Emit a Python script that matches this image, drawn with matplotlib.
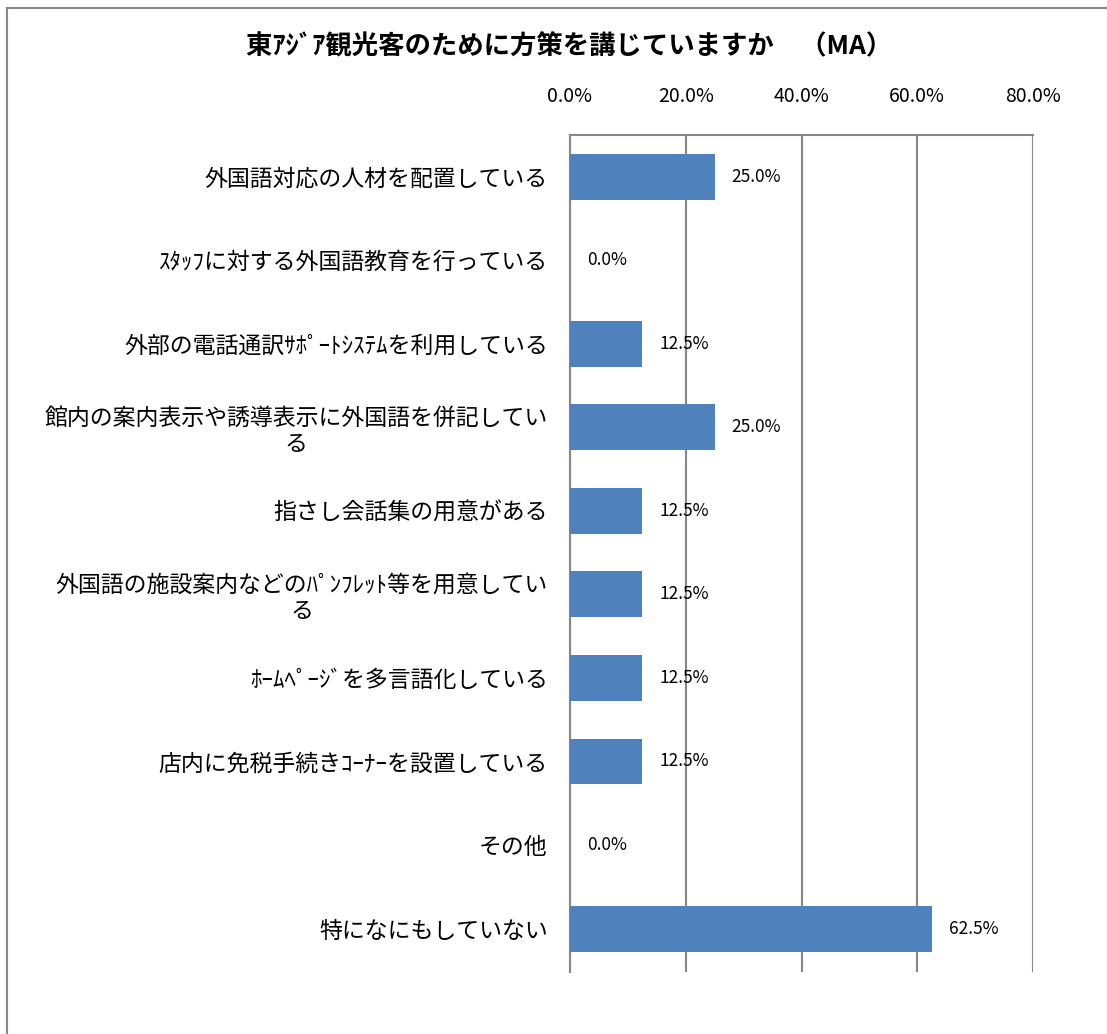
import matplotlib
matplotlib.use("Agg")
import matplotlib.pyplot as plt
from matplotlib.lines import Line2D

plt.rcParams['font.family'] = ['Noto Sans CJK JP', 'DejaVu Sans']

title = "東ｱｼﾞｱ観光客のために方策を講じていますか　（MA）"
categories = [
    "外国語対応の人材を配置している",
    "ｽﾀｯﾌに対する外国語教育を行っている",
    "外部の電話通訳ｻﾎﾟｰﾄｼｽﾃﾑを利用している",
    "館内の案内表示や誘導表示に外国語を併記してい\nる",
    "指さし会話集の用意がある",
    "外国語の施設案内などのﾊﾟﾝﾌﾚｯﾄ等を用意してい\nる",
    "ﾎｰﾑﾍﾟｰｼﾞを多言語化している",
    "店内に免税手続きｺｰﾅｰを設置している",
    "その他",
    "特になにもしていない",
]
values = [25.0, 0.0, 12.5, 25.0, 12.5, 12.5, 12.5, 12.5, 0.0, 62.5]
xticks = [0, 20, 40, 60, 80]
xtick_labels = ["0.0%", "20.0%", "40.0%", "60.0%", "80.0%"]

W, H = 1107, 1034
fig = plt.figure(figsize=(W / 100, H / 100), dpi=100)
bx, by = 7 / W, 1 - 8 / H
fig.lines.append(Line2D([bx, bx], [0, by], transform=fig.transFigure, color='#888888', linewidth=1.5))
fig.lines.append(Line2D([bx, 1], [by, by], transform=fig.transFigure, color='#888888', linewidth=1.5))

ax = fig.add_axes([570 / W, 1 - 972 / H, (1033 - 570) / W, (972 - 135) / H])
n = len(categories)
ypos = list(range(n))
ax.barh(ypos, values, height=0.55, color='#4F81BD', zorder=3)
ax.set_ylim(n - 0.5 + 0.02, -0.5)
ax.set_xlim(0, 80)

ax.set_xticks(xticks)
ax.set_xticklabels(xtick_labels, fontsize=14)
ax.xaxis.tick_top()
ax.tick_params(axis='x', length=0, pad=20)
ax.grid(axis='x', color='#868686', linewidth=1.5, zorder=0)

ax.set_yticks(ypos)
ax.set_yticklabels(categories, fontsize=16.5, multialignment='center', linespacing=1.15)
ax.tick_params(axis='y', length=0, pad=16)

for s in ['right', 'bottom']:
    ax.spines[s].set_visible(False)
for s in ['left', 'top']:
    ax.spines[s].set_color('#868686')
    ax.spines[s].set_linewidth(1.5)

for y, v in zip(ypos, values):
    ax.annotate(f"{v:.1f}%", xy=(v, y), xytext=(17, 0), textcoords='offset pixels',
                ha='left', va='center', fontsize=12.5, zorder=4)

fig.text(0.514, 1 - 47 / H, title, ha='center', va='center', fontsize=19, fontweight='bold')

fig.savefig("out.png", dpi=100)
